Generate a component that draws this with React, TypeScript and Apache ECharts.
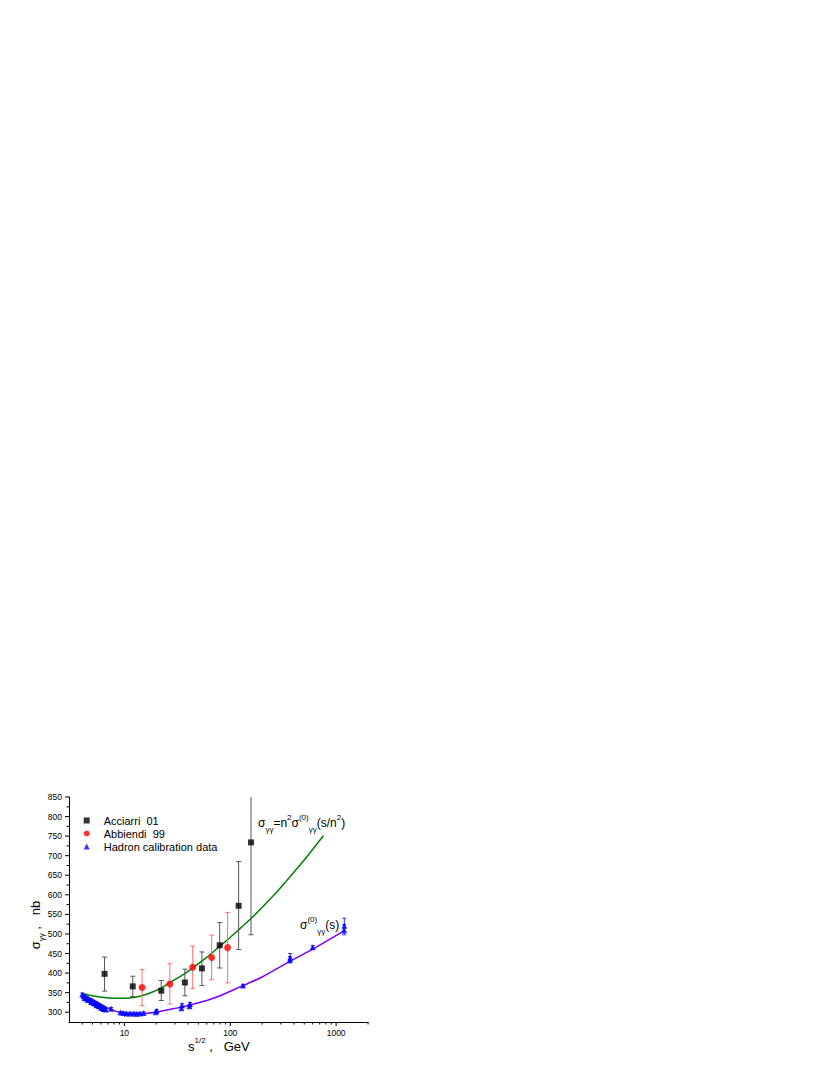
import React, { useEffect, useRef } from "react";
import * as echarts from "echarts";

// ---- axis ranges & ticks ----
const xMin = 3;
const xMax = 2000;
const yMin = 275;
const yMax = 850;
const xMajorTicks = [10, 100, 1000];
const xMinorTicks = [4, 5, 6, 7, 8, 9, 20, 30, 40, 50, 60, 70, 80, 90, 200, 300, 400, 500, 600, 700, 800, 900, 2000];
const yMajorTicks = [300, 350, 400, 450, 500, 550, 600, 650, 700, 750, 800, 850];
const yMinorTicks = [325, 375, 425, 475, 525, 575, 625, 675, 725, 775, 825];

// ---- Acciarri 01 (black squares) ----
const acciarriX = [6.5, 12.0, 22.3, 37.3, 54, 79.5, 120, 157];
const acciarriY = [398, 366, 355, 376, 412, 471, 572, 734];
const acciarriLo = [354, 340, 330, 342, 368, 413, 460, 498];
const acciarriHi = [441, 392, 381, 410, 454, 529, 685, 970];

// ---- Abbiendi 99 (red circles) ----
const abbiendiX = [14.7, 26.9, 44.2, 66.7, 94.4];
const abbiendiY = [363, 372, 415, 440, 465];
const abbiendiLo = [317, 321, 361, 383, 375];
const abbiendiHi = [409, 424, 469, 497, 555];

// ---- Hadron calibration data (blue triangles) ----
const hadronX = [4.0, 4.12, 4.22, 4.3, 4.42, 4.52, 4.6, 4.73, 4.85, 4.9, 5.08, 5.15, 5.2, 5.37, 5.45, 5.5, 5.66, 5.75, 5.8, 5.97, 6.05, 6.1, 6.27, 6.35, 6.4, 6.56, 6.7, 7.5, 9.2, 9.8, 10.5, 11.3, 12.2, 13.0, 14.0, 15.2, 19.8, 20.2, 34.6, 35.0, 41.2, 41.6, 132, 366, 368, 601, 1190, 1195];
const hadronY = [345, 341, 336, 338, 336, 331, 333, 331, 326, 330, 327, 323, 325, 323, 318, 322, 319, 315, 318, 316, 311, 314, 312, 308, 311, 309, 307, 309, 299, 298, 297, 297, 297, 296, 297, 298, 300, 304, 310, 318, 315, 321, 368, 434, 440, 466, 511, 521];
const hadronErr = [4, 4, 5, 4, 4, 5, 4, 4, 5, 4, 4, 5, 4, 4, 5, 4, 4, 5, 4, 4, 5, 4, 4, 5, 4, 4, 4, 3, 3, 3, 3, 3, 3, 3, 3, 3, 3, 3, 4, 4, 4, 4, 3, 8, 10, 4, 13, 19];

// ---- model curves ----
const greenX = [4, 5, 6, 8, 10, 13, 17, 22, 27, 35, 44, 60, 79, 100, 125, 158, 200, 260, 350, 480, 600, 758];
const greenY = [348, 342, 338.5, 335.5, 335.5, 339, 348, 361, 376, 394, 413, 440, 468, 491, 515, 540, 568, 600, 640, 683, 716, 751];
const purpleX = [4.0, 5, 6, 7, 8, 9, 10, 12, 15, 20, 26.5, 35, 41, 60, 80, 132, 200, 366, 601, 1175];
const purpleY = [345, 331, 319, 310, 304, 300, 298, 296.5, 297, 300, 307, 313, 318, 330, 342, 368, 390, 430, 461, 507];

const FONT = "Arial, 'Liberation Sans', sans-serif";

const richStyles = (size: number) => ({
  m: { fontSize: size, lineHeight: 20, fontFamily: FONT, fill: "#000", color: "#000" },
  sub: { fontSize: 8, lineHeight: 6, verticalAlign: "bottom", fontFamily: FONT, fill: "#000", color: "#000" },
  sup: { fontSize: 8, lineHeight: 7, verticalAlign: "top", fontFamily: FONT, fill: "#000", color: "#000" },
});

function errorBarRenderer(color: string, capHalf: number) {
  return (_params: any, api: any) => {
    const x = api.value(0);
    const a = api.coord([x, api.value(1)]);
    const b = api.coord([x, api.value(2)]);
    const style = { stroke: color, lineWidth: 1, fill: "none" };
    return {
      type: "group",
      children: [
        { type: "line", shape: { x1: a[0], y1: a[1], x2: b[0], y2: b[1] }, style },
        { type: "line", shape: { x1: a[0] - capHalf, y1: a[1], x2: a[0] + capHalf, y2: a[1] }, style },
        { type: "line", shape: { x1: b[0] - capHalf, y1: b[1], x2: b[0] + capHalf, y2: b[1] }, style },
      ],
    };
  };
}

export default function App() {
  const ref = useRef<HTMLDivElement>(null);

  useEffect(() => {
    if (!ref.current) return;
    const chart = echarts.init(ref.current, undefined, { renderer: "svg" });

    const zip = (xs: number[], ys: number[]) => xs.map((x, i) => [x, ys[i]]);
    const tickData = [
      ...xMajorTicks.map((v) => [v, yMin, 0, 4]),
      ...xMinorTicks.map((v) => [v, yMin, 0, 2.5]),
      ...yMajorTicks.map((v) => [xMin, v, 1, 4]),
      ...yMinorTicks.map((v) => [xMin, v, 1, 2.5]),
    ];

    const option: any = {
      animation: false,
      backgroundColor: "#fff",
      grid: { left: 69, right: 462, top: 797, bottom: 53, containLabel: false },
      xAxis: {
        type: "log",
        logBase: 10,
        min: xMin,
        max: xMax,
        axisLine: { lineStyle: { color: "#000", width: 1 } },
        axisTick: { show: false },
        splitLine: { show: false },
        axisLabel: {
          color: "#000",
          fontSize: 8.5,
          fontFamily: FONT,
          margin: 6,
          showMinLabel: false,
          showMaxLabel: false,
          formatter: (v: number) => (xMajorTicks.some((t) => Math.abs(t - v) < 1e-6 * t) ? String(Math.round(v)) : ""),
        },
      },
      yAxis: {
        type: "value",
        min: yMin,
        max: yMax,
        interval: 25,
        axisLine: { show: true, lineStyle: { color: "#000", width: 1 } },
        axisTick: { show: false },
        splitLine: { show: false },
        axisLabel: {
          color: "#000",
          fontSize: 8.5,
          fontFamily: FONT,
          margin: 7,
          formatter: (v: number) => (yMajorTicks.includes(Math.round(v)) ? String(Math.round(v)) : ""),
        },
      },
      legend: {
        left: 83.7,
        top: 814,
        orient: "vertical",
        padding: 0,
        itemGap: 0,
        itemWidth: 6,
        itemHeight: 6,
        textStyle: { fontSize: 11, lineHeight: 13, fontFamily: FONT, color: "#000", padding: [0, 0, 0, 9] },
        data: ["Acciarri  01", "Abbiendi  99", "Hadron calibration data"],
      },
      series: [
        {
          type: "custom",
          name: "ticks",
          silent: true,
          clip: false,
          data: tickData,
          z: 1,
          renderItem: (_p: any, api: any) => {
            const p = api.coord([api.value(0), api.value(1)]);
            const kind = api.value(2);
            const len = api.value(3);
            const shape =
              kind === 0
                ? { x1: p[0], y1: p[1], x2: p[0], y2: p[1] + len }
                : { x1: p[0] - len, y1: p[1], x2: p[0], y2: p[1] };
            return { type: "line", shape, style: { stroke: "#000", lineWidth: 1 } };
          },
        },
        {
          type: "line",
          name: "model n",
          data: zip(greenX, greenY),
          smooth: 0.3,
          symbol: "none",
          lineStyle: { color: "#008000", width: 1.5 },
          z: 2,
        },
        {
          type: "line",
          name: "model 0",
          data: zip(purpleX, purpleY),
          smooth: 0.3,
          symbol: "none",
          lineStyle: { color: "#8000ff", width: 1.5 },
          z: 2,
        },
        {
          type: "custom",
          name: "acciarri err",
          silent: true,
          clip: true,
          data: acciarriX.map((x, i) => [x, acciarriLo[i], acciarriHi[i]]),
          renderItem: errorBarRenderer("#555555", 2.5),
          z: 3,
        },
        {
          type: "custom",
          name: "abbiendi err",
          silent: true,
          clip: true,
          data: abbiendiX.map((x, i) => [x, abbiendiLo[i], abbiendiHi[i]]),
          renderItem: errorBarRenderer("#ff7070", 2.5),
          z: 3,
        },
        {
          type: "custom",
          name: "hadron err",
          silent: true,
          clip: true,
          data: hadronX.map((x, i) => [x, hadronY[i] - hadronErr[i], hadronY[i] + hadronErr[i]]),
          renderItem: errorBarRenderer("#3030ff", 2),
          z: 3,
        },
        {
          type: "scatter",
          name: "Acciarri  01",
          symbol: "rect",
          symbolSize: 6,
          itemStyle: { color: "#000" },
          data: zip(acciarriX, acciarriY),
          z: 4,
        },
        {
          type: "scatter",
          name: "Abbiendi  99",
          symbol: "circle",
          symbolSize: 7,
          itemStyle: { color: "#ff0000" },
          data: zip(abbiendiX, abbiendiY),
          z: 4,
        },
        {
          type: "scatter",
          name: "Hadron calibration data",
          symbol: "triangle",
          symbolSize: 6,
          itemStyle: { color: "#0000ff" },
          data: zip(hadronX, hadronY),
          z: 4,
        },
      ],
      graphic: [
        {
          type: "text",
          x: 258,
          y: 823,
          silent: true,
          style: {
            text: "{m|σ}{sub|γγ}{m|=n}{sup|2}{m|σ}{sup|(0)}{sub|γγ}{m|(s/n}{sup|2}{m|)}",
            rich: richStyles(12),
            align: "left",
            verticalAlign: "middle",
          },
        },
        {
          type: "text",
          x: 300,
          y: 925,
          silent: true,
          style: {
            text: "{m|σ}{sup|(0)}{sub|γγ}{m|(s)}",
            rich: richStyles(12),
            align: "left",
            verticalAlign: "middle",
          },
        },
        {
          type: "text",
          x: 188,
          y: 1046,
          silent: true,
          style: {
            text: "{m|s}{sup|1/2}{m| ,   GeV}",
            rich: richStyles(13),
            align: "left",
            verticalAlign: "middle",
          },
        },
        {
          type: "text",
          x: 35,
          y: 925,
          rotation: Math.PI / 2,
          silent: true,
          style: {
            text: "{m|σ}{sub|γγ}{m| ,   nb}",
            rich: richStyles(13),
            align: "center",
            verticalAlign: "middle",
          },
        },
      ],
    };

    chart.setOption(option);
    return () => chart.dispose();
  }, []);

  return (
    <div
      ref={ref}
      style={{ position: "absolute", left: 0, top: 0, width: 830, height: 1075, background: "#fff" }}
    />
  );
}
